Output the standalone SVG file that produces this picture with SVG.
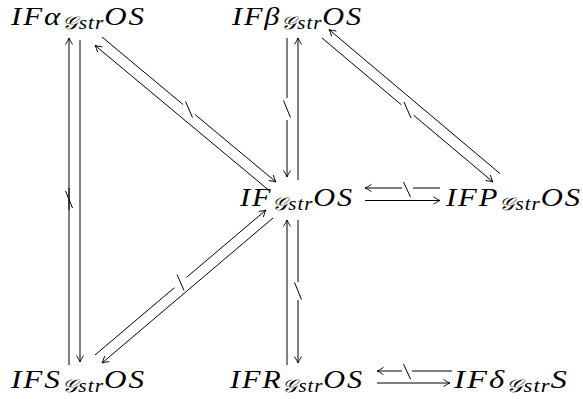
<svg xmlns="http://www.w3.org/2000/svg" width="583" height="399" viewBox="0 0 583 399">
<defs>
<marker id="ah" markerUnits="userSpaceOnUse" markerWidth="12" markerHeight="12" viewBox="-8 -6 10 12" refX="0" refY="0" orient="auto">
<path d="M -6.5 -3.6 Q -2.5 -0.9 0 0 Q -2.5 0.9 -6.5 3.6" fill="none" stroke="#000" stroke-width="0.9"/>
</marker>
</defs>
<style>
.lbl{font-family:"Liberation Serif","DejaVu Serif",serif;font-style:italic;font-size:26px;letter-spacing:1.6px;fill:#000}
.sub{font-size:18px;letter-spacing:0.8px}
.ln{stroke:#000;stroke-width:1;fill:none}
.ar{marker-end:url(#ah)}
</style>
<rect width="583" height="399" fill="#fff"/>
<g id="n-alpha"><text class="lbl" x="11" y="25" textLength="135" lengthAdjust="spacingAndGlyphs">IFα<tspan class="sub" dy="4">𝒢str</tspan><tspan dy="-4">OS</tspan></text></g>
<g id="n-beta"><text class="lbl" x="232" y="25" textLength="131" lengthAdjust="spacingAndGlyphs">IFβ<tspan class="sub" dy="4">𝒢str</tspan><tspan dy="-4">OS</tspan></text></g>
<g id="n-center"><text class="lbl" x="240" y="206" textLength="114" lengthAdjust="spacingAndGlyphs">IF<tspan class="sub" dy="4">𝒢str</tspan><tspan dy="-4">OS</tspan></text></g>
<g id="n-p"><text class="lbl" x="446" y="206" textLength="136" lengthAdjust="spacingAndGlyphs">IFP<tspan class="sub" dy="4">𝒢str</tspan><tspan dy="-4">OS</tspan></text></g>
<g id="n-s"><text class="lbl" x="11" y="388" textLength="135" lengthAdjust="spacingAndGlyphs">IFS<tspan class="sub" dy="4">𝒢str</tspan><tspan dy="-4">OS</tspan></text></g>
<g id="n-r"><text class="lbl" x="230" y="388" textLength="134" lengthAdjust="spacingAndGlyphs">IFR<tspan class="sub" dy="4">𝒢str</tspan><tspan dy="-4">OS</tspan></text></g>
<g id="n-delta"><text class="lbl" x="454" y="388" textLength="115" lengthAdjust="spacingAndGlyphs">IFδ<tspan class="sub" dy="4">𝒢str</tspan><tspan dy="-4">S</tspan></text></g>
<g id="connectors">
<!-- left column -->
<line class="ln" x1="69" y1="365" x2="69" y2="188"/>
<line class="ln ar" x1="69" y1="210" x2="69" y2="38"/>
<line class="ln" x1="65.5" y1="191" x2="72.5" y2="208"/>
<line class="ln ar" x1="80" y1="40" x2="80" y2="362"/>
<!-- top middle -->
<line class="ln" x1="287" y1="38" x2="287" y2="98"/>
<line class="ln ar" x1="287" y1="120" x2="287" y2="177"/>
<line class="ln" x1="283.5" y1="100.5" x2="290.5" y2="117.5"/>
<line class="ln ar" x1="298" y1="180" x2="298" y2="38"/>
<!-- bottom middle -->
<line class="ln ar" x1="287" y1="365" x2="287" y2="220"/>
<line class="ln" x1="298" y1="220" x2="298" y2="282"/>
<line class="ln ar" x1="298" y1="300" x2="298" y2="363"/>
<line class="ln" x1="294.5" y1="282.5" x2="301.5" y2="299.5"/>
<!-- center horizontal -->
<line class="ln" x1="440" y1="188" x2="413" y2="188"/>
<line class="ln ar" x1="402" y1="188" x2="365" y2="188"/>
<line class="ln" x1="403.5" y1="182" x2="410.5" y2="197"/>
<line class="ln ar" x1="365" y1="200.5" x2="440" y2="200.5"/>
<!-- bottom horizontal -->
<line class="ln" x1="452" y1="371" x2="412" y2="371"/>
<line class="ln ar" x1="402" y1="371" x2="377" y2="371"/>
<line class="ln" x1="403.5" y1="364" x2="410.5" y2="379"/>
<line class="ln ar" x1="377" y1="383" x2="450" y2="383"/>
<!-- top-left diagonal -->
<line class="ln" x1="102" y1="37" x2="182.9" y2="104.4"/>
<line class="ln ar" x1="195.1" y1="114.6" x2="276" y2="182"/>
<line class="ln" x1="185.5" y1="101.5" x2="192.5" y2="117.5"/>
<line class="ln ar" x1="269" y1="190.4" x2="95" y2="45.4"/>
<!-- top-right diagonal -->
<line class="ln" x1="322" y1="38" x2="401.4" y2="104.8"/>
<line class="ln ar" x1="413.6" y1="115.2" x2="493" y2="182"/>
<line class="ln" x1="404" y1="102" x2="411" y2="118"/>
<line class="ln ar" x1="500" y1="173.6" x2="329" y2="29.6"/>
<!-- bottom-left diagonal -->
<line class="ln" x1="95" y1="355" x2="174.4" y2="287.7"/>
<line class="ln ar" x1="186.6" y1="277.3" x2="266" y2="210"/>
<line class="ln" x1="177" y1="274.5" x2="184" y2="290.5"/>
<line class="ln ar" x1="273" y1="218" x2="102" y2="363"/>
</g>
</svg>
